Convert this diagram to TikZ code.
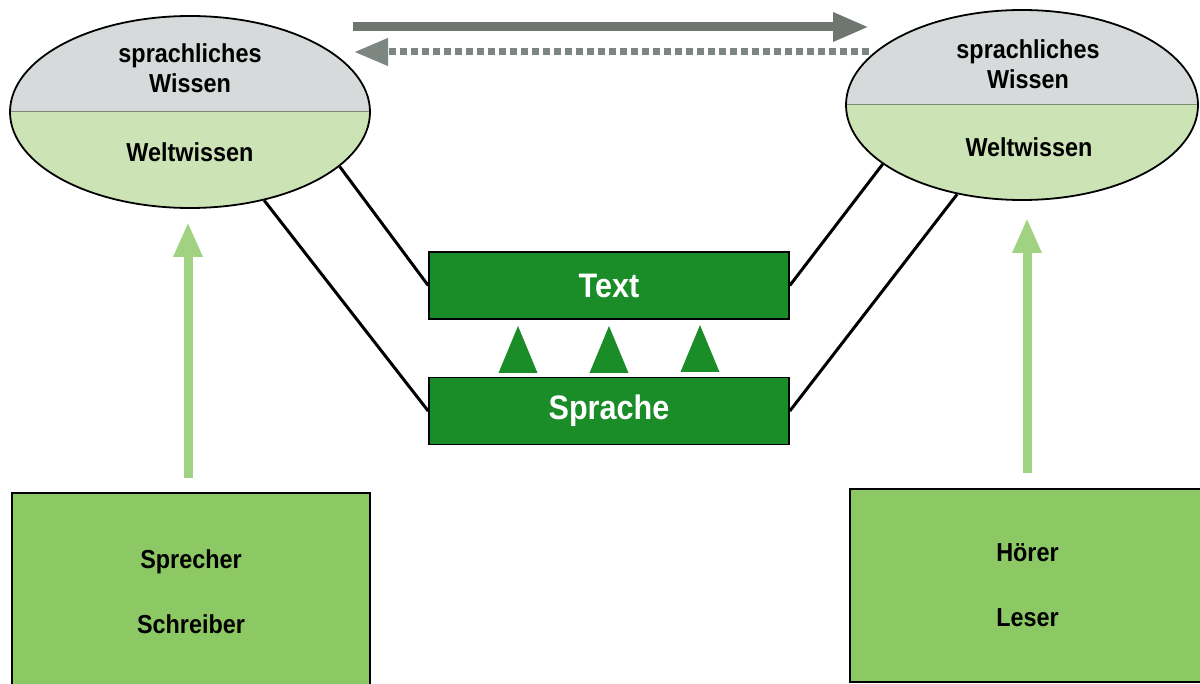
\documentclass[tikz,border=0pt]{standalone}
\usepackage{fontspec}
\setmainfont{Liberation Sans}[FakeStretch=0.9]
\usetikzlibrary{arrows.meta,shapes.geometric}
\definecolor{ellgray}{HTML}{D6DADB}
\definecolor{ellgreen}{HTML}{CCE3B6}
\definecolor{boxgreen}{HTML}{8CC864}
\definecolor{darkgreen}{HTML}{1A8C28}
\definecolor{uparrow}{HTML}{A0D282}
\definecolor{toparrow}{HTML}{6F7672}
\definecolor{dasharrow}{HTML}{7E8682}
\begin{document}
\begin{tikzpicture}[x=0.5pt,y=-0.5pt,
  ell/.style={ellipse, draw=black, line width=0.9pt, inner sep=0pt,
    path picture={
      \fill[ellgreen] (path picture bounding box.south west) rectangle (path picture bounding box.east);
      \fill[ellgray] (path picture bounding box.north west) rectangle (path picture bounding box.east);
      \draw[black!40!ellgreen, line width=0.5pt] (path picture bounding box.west) -- (path picture bounding box.east);}},
  elltext/.style={font=\bfseries\fontsize{13}{15}\selectfont, align=center, inner sep=0pt},
  centerbox/.style={rectangle, draw=black, line width=0.8pt, fill=darkgreen, text=white,
    font=\bfseries\fontsize{17}{20}\selectfont, minimum width=180pt, minimum height=33.5pt, inner sep=0pt},
  personbox/.style={rectangle, draw=black, line width=0.9pt, fill=boxgreen,
    font=\bfseries\fontsize{13}{32.5}\selectfont, align=center, inner sep=0pt},
  link/.style={draw=black, line width=1.5pt},
  uparr/.style={draw=uparrow, line width=4.5pt, -{Triangle[length=17.5pt,width=13.5pt]}},
  solidarr/.style={draw=toparrow, line width=4.5pt, -{Triangle[length=18pt,width=13.5pt]}},
  dasharr/.style={draw=dasharrow, line width=3.5pt, dash pattern=on 3.5pt off 2pt, -{Triangle[length=17pt,width=13pt]}}
]
\useasboundingbox (0,0) rectangle (1200,684);
\clip (0,0) rectangle (1200,684);

% ellipses
\node[ell, minimum width=180pt, minimum height=96pt] (L) at (190,112) {};
\node[ell, minimum width=176pt, minimum height=95pt] (R) at (1022,105) {};
\node[elltext] (Lsw) at (190,68) {sprachliches\\Wissen};
\node[elltext] (Lww) at (190,152) {Weltwissen};
\node[elltext] (Rsw) at (1028,64) {sprachliches\\Wissen};
\node[elltext] (Rww) at (1029,147) {Weltwissen};

% centre boxes
\node[centerbox] (T) at (609,285.5) {Text};
\node[centerbox] (S) at (609,411) {Sprache};

% connectors
\draw[link] (L.-20.5) -- (T.west);
\draw[link] (L.-50.7) -- (S.west);
\draw[link] (R.-157) -- (T.east);
\draw[link] (R.-126) -- (S.east);

% triangles
\coordinate (t1) at (518,326);
\coordinate (t2) at (609,326);
\coordinate (t3) at (700,325);
\foreach \t in {t1,t2,t3}{
  \fill[darkgreen] (\t) -- ++(-19.5,47) -- ++(39,0) -- cycle;
}

% person boxes
\node[personbox, minimum width=179pt, minimum height=98.5pt] (SB) at (191,591.5) {Sprecher\\Schreiber};
\node[personbox, minimum width=177.5pt, minimum height=96.5pt] (HB) at (1027.5,585.5) {Hörer\\Leser};

% green arrows
\coordinate (a1s) at (188,478);
\coordinate (a1e) at (188,222);
\coordinate (a2s) at (1027,473);
\coordinate (a2e) at (1027,218);
\draw[uparr] (a1s) -- (a1e);
\draw[uparr] (a2s) -- (a2e);

% top arrows
\coordinate (p1) at (353,27);
\coordinate (p2) at (869,27);
\coordinate (q1) at (869,52);
\coordinate (q2) at (354,52);
\draw[solidarr] (p1) -- (p2);
\draw[dasharr] (q1) -- (q2);
\end{tikzpicture}
\end{document}
